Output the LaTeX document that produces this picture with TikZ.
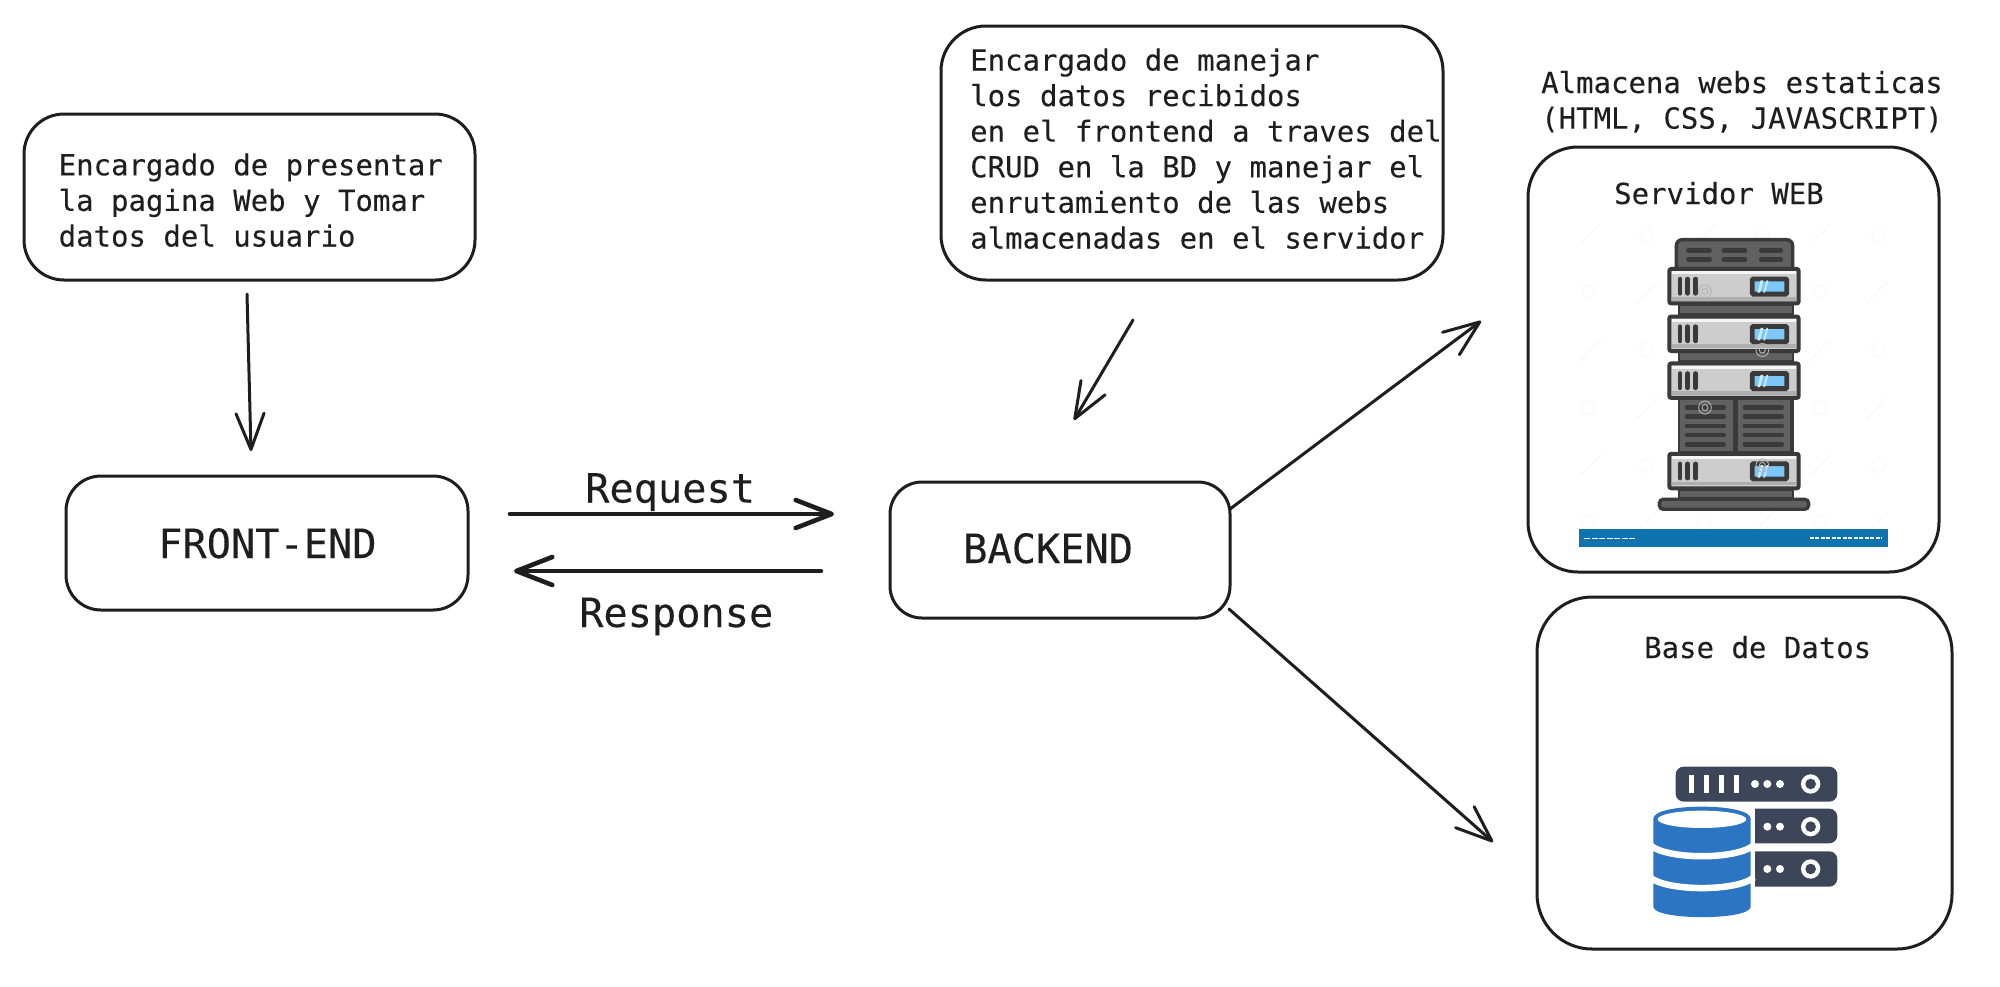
\documentclass[tikz,border=0pt]{standalone}
\usepackage{fontspec}
\setmonofont[FakeBold=0.12]{DejaVu Sans Mono}
\usetikzlibrary{arrows.meta}
\definecolor{ink}{HTML}{1E1E1E}
\definecolor{srvfill}{HTML}{616161}
\definecolor{srvline}{HTML}{3A3A3A}
\definecolor{srvgray}{HTML}{CDCDCD}
\definecolor{srvscreen}{HTML}{7CC8FB}
\definecolor{srvbar}{HTML}{0F73AD}
\definecolor{wmark}{HTML}{F8F8F8}
\definecolor{wmarkdark}{HTML}{B4B4B4}
\definecolor{dbdark}{HTML}{3C4658}
\definecolor{dbblue}{HTML}{2B75C2}
\tikzset{
  skbox/.style={draw=ink,line width=3pt,rounded corners=#1,inner sep=0pt,outer sep=0pt,fill=white},
  smalltxt/.style={font=\ttfamily\fontsize{29}{35.6}\selectfont,text=ink,inner sep=0pt,anchor=base west,align=left},
  bigtxt/.style={font=\ttfamily\fontsize{40.3}{44}\selectfont,text=ink,inner sep=0pt,anchor=base west},
  link/.style={draw=ink,line width=3pt,line cap=round,-{Straight Barb[length=36pt,width=28pt,round]}},
  thicklink/.style={link,line width=4.6pt},
}
\begin{document}
\begin{tikzpicture}[x=1pt,y=-1pt]
\useasboundingbox (0,0) rectangle (2000,986);
\fill[white] (0,0) rectangle (2000,986);

% boxes
\node[skbox=40pt,minimum width=451pt,minimum height=166pt] (descfront) at (249.5,197) {};
\node[skbox=35pt,minimum width=402pt,minimum height=134pt] (front) at (267,543) {};
\node[skbox=45pt,minimum width=502pt,minimum height=254pt] (descback) at (1192,153) {};
\node[skbox=32pt,minimum width=340pt,minimum height=136pt] (back) at (1060,550) {};
\node[skbox=50pt,minimum width=411pt,minimum height=425pt] (server) at (1733.5,359.5) {};
\node[skbox=55pt,minimum width=415pt,minimum height=352pt] (db) at (1744.5,773) {};

% texts
\node[smalltxt] (tfront) at (58.5,246.5) {Encargado de presentar\\la pagina Web y Tomar\\datos del usuario};
\node[smalltxt] (tback) at (970,248.5) {Encargado de manejar\\los datos recibidos\\en el frontend a traves del\\CRUD en la BD y manejar el\\enrutamiento de las webs\\almacenadas en el servidor};
\node[smalltxt] (tstore) at (1541,128.6) {Almacena webs estaticas\\(HTML, CSS, JAVASCRIPT)};
\node[smalltxt] (tserver) at (1614,204) {Servidor WEB};
\node[smalltxt] (tdb) at (1644,658) {Base de Datos};
\node[bigtxt] (tfe) at (158,558) {FRONT-END};
\node[bigtxt] (tbe) at (963,563) {BACKEND};
\node[bigtxt] (treq) at (585,502.5) {Request};
\node[bigtxt] (tres) at (579,627) {Response};

% connector ends
\coordinate (a1) at (247,294);
\coordinate (a2) at (251,451);
\coordinate (b1) at (510,514);
\coordinate (b2) at (834,514);
\coordinate (c1) at (821,571);
\coordinate (c2) at (514,571);
\coordinate (d1) at (1133,320);
\coordinate (d2) at (1074,420);
\coordinate (e1) at (1230,509);
\coordinate (e2) at (1481,321);
\coordinate (f1) at (1229,609);
\coordinate (f2) at (1493,842);

\draw[link] (a1) -- (a2);
\draw[thicklink] (b1) -- (b2);
\draw[thicklink] (c1) -- (c2);
\draw[link] (d1) -- (d2);
\draw[link] (e1) -- (e2);
\draw[link] (f1) -- (f2);

% server icon (coordinates of a 3x crop)
\begin{scope}[shift={(1500pt,-50pt)},x=0.3333pt,y=-0.3448pt]
  % faint watermark
  \foreach \wx/\wy in {438/535,787/535,1135/535,265/700,960/700,438/870,1135/870,265/1037,960/1037,438/1205,1135/1205,265/1370,612/1370,960/1370}
    \draw[wmark,line width=1pt] (\wx,\wy) circle (19);
  \foreach \wx/\wy in {270/535,615/535,960/535,440/705,1130/705,270/870,960/870,440/1040,1130/1040,270/1205,960/1205,440/1370,790/1370,1130/1370}
    \draw[wmark,line width=1.2pt] (\wx-32,\wy+32) -- (\wx+32,\wy-32);
  % top cap
  \draw[srvline,fill=srvfill,line width=3.4pt,rounded corners=6pt] (529,640) -- (529,550) -- (878,550) -- (878,640);
  \foreach \ry in {582,607}
    \foreach \xa/\xb in {566/628,672/735,784/842}
      \draw[srvline,line width=5pt,line cap=round] (\xa,\ry) -- (\xb,\ry);
  % body
  \fill[srvline] (533,730) rectangle (882,1300);
  \fill[srvfill] (540,742) rectangle (875,764);
  \fill[srvfill] (540,878) rectangle (875,900);
  \fill[srvfill] (540,1280) rectangle (875,1296);
  \fill[srvfill] (540,1016) rectangle (698,1162);
  \fill[srvfill] (713,1016) rectangle (870,1162);
  \foreach \ry in {1037,1063,1090,1116,1144}{
    \draw[srvline,line width=4.2pt,line cap=round] (560,\ry) -- (672,\ry);
    \draw[srvline,line width=4.2pt,line cap=round] (734,\ry) -- (846,\ry);
  }
  % units
  \foreach \u in {632,770,906,1168}{
    \begin{scope}[shift={(0,\u)}]
      \draw[srvline,fill=srvgray,line width=4pt,rounded corners=2pt] (508,3) rectangle (896,103);
      \fill[white!80!srvgray] (516,10) rectangle (888,18);
      \fill[srvgray!85!black] (516,84) rectangle (888,95);
      \foreach \bx in {540,563,587}
        \draw[srvline,line width=4.4pt,line cap=round] (\bx,32) -- (\bx,74);
      \draw[srvline,fill=srvscreen,line width=4.8pt,rounded corners=1pt] (757,32) rectangle (860,76);
      \fill[white!65!srvscreen] (772,72) -- (782,36) -- (790,36) -- (780,72) -- cycle;
      \fill[white!65!srvscreen] (790,72) -- (800,36) -- (805,36) -- (795,72) -- cycle;
    \end{scope}
  }
  % watermark marks over the icon
  \foreach \wx/\wy in {615/700,787/870,615/1037,787/1205}{
    \draw[wmarkdark,line width=0.9pt] (\wx,\wy) circle (19);
    \draw[wmarkdark,line width=0.9pt] (\wx,\wy) circle (9);
  }
  % base
  \draw[srvline,fill=srvfill,line width=3.4pt,rounded corners=4pt] (478,1303) rectangle (926,1332);
  % credit bar
  \fill[srvbar] (238,1390) rectangle (1163,1440);
  \draw[white,line width=1.8pt,dash pattern=on 6pt off 1.5pt] (252,1417) -- (405,1417);
  \draw[white,line width=1.6pt,dash pattern=on 4pt off 1.5pt] (930,1415) -- (1145,1415);
\end{scope}

% database icon (coordinates of a 3x crop)
\begin{scope}[shift={(1500pt,-590pt)},x=0.3333pt,y=-0.3333pt]
  \fill[dbdark,rounded corners=8pt] (527,530) rectangle (1012,635);
  \fill[dbdark,rounded corners=8pt] (700,656) rectangle (1012,760);
  \fill[dbdark,rounded corners=8pt] (700,784) rectangle (1012,890);
  \foreach \bx in {574,620,665,710}
    \fill[white] (\bx-8,555) rectangle (\bx+8,610);
  \foreach \dx in {765,802,840}
    \fill[white] (\dx,582) circle (12);
  \foreach \ry in {710,837}
    \foreach \dx in {802,840}
      \fill[white] (\dx,\ry) circle (12);
  \foreach \ry in {582,710,837}{
    \fill[white] (932,\ry) circle (29);
    \fill[dbdark] (932,\ry) circle (16);
  }
  % cylinder
  \fill[white] (440,640) rectangle (766,1000);
  \fill[dbblue] (460,686) .. controls (460,638) and (752,638) .. (752,686)
    -- (752,950) .. controls (752,992) and (460,992) .. (460,950) -- cycle;
  \fill[white] (606,688) ellipse (133 and 26);
  \draw[white,line width=6.5pt] (450,765) .. controls (500,810) and (712,810) .. (762,765);
  \draw[white,line width=6.5pt] (450,862) .. controls (500,905) and (712,905) .. (762,862);
\end{scope}
\end{tikzpicture}
\end{document}
